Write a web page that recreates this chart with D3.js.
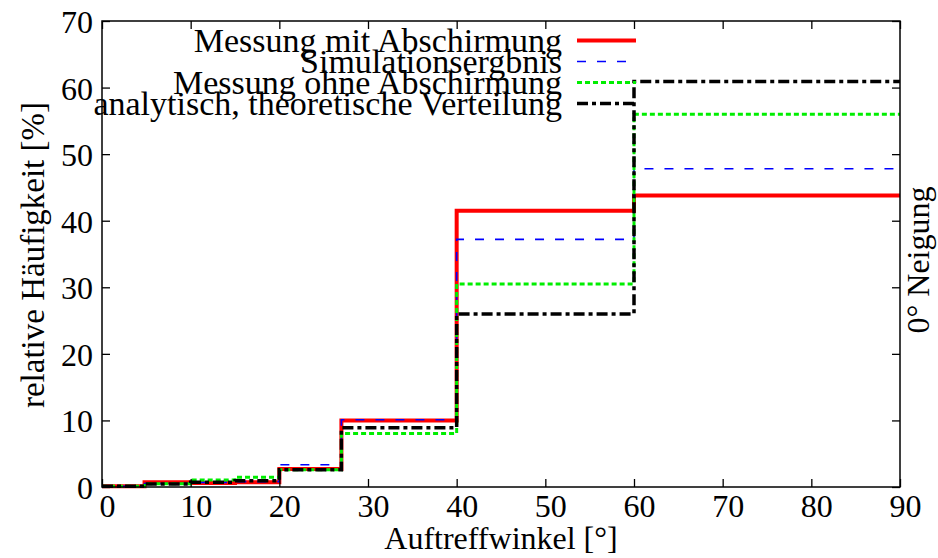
<!DOCTYPE html>
<html>
<head>
<meta charset="utf-8">
<title>Auftreffwinkel</title>
<script src="https://d3js.org/d3.v7.min.js"></script>
<style>
  body { margin:0; background:#fff; }
  svg text { font-family: "Liberation Serif", "DejaVu Serif", serif; fill:#000; }
</style>
</head>
<body>
<div id="chart"></div>
<script>
// bin edges (degrees) and per-bin values in %
var edges = [0, 4.8, 10, 15, 20, 27, 40, 60, 90];
var messungMit  = [0.1, 0.7, 0.6, 0.7, 2.7, 10.0, 41.5, 43.8];
var simulation  = [0.1, 0.5, 0.7, 0.8, 3.35, 10.1, 37.2, 47.8];
var messungOhne = [0.1, 0.5, 1.05, 1.45, 2.6, 8.05, 30.5, 56.0];
var analytisch  = [0.1, 0.45, 0.7, 0.95, 2.6, 8.9, 26.0, 60.9];

var names = ["Messung mit Abschirmung", "Simulationsergbnis",
             "Messung ohne Abschirmung", "analytisch, theoretische Verteilung"];
var xTicks = [0, 10, 20, 30, 40, 50, 60, 70, 80, 90];
var yTicks = [0, 10, 20, 30, 40, 50, 60, 70];

var W = 938, H = 558;
var pLeft = 102, pRight = 900, pTop = 21, pBottom = 487;

var x = d3.scaleLinear().domain([0, 90]).range([pLeft, pRight]);
var y = d3.scaleLinear().domain([0, 70]).range([pBottom, pTop]);

var svg = d3.select("#chart").append("svg")
    .attr("width", W).attr("height", H);

var styles = [
  {color:"#ff0000", width:4,   dash:null},
  {color:"#0000ff", width:1.6, dash:"9,11"},
  {color:"#00ee00", width:3,   dash:"5,3"},
  {color:"#000000", width:3.5, dash:"11,4,4,4"}
];
var series = [messungMit, simulation, messungOhne, analytisch];

// step lines
var line = d3.line()
    .x(function(d){ return x(d[0]); })
    .y(function(d){ return y(d[1]); })
    .curve(d3.curveStepAfter);

series.forEach(function(vals, i){
  var pts = vals.map(function(v, k){ return [edges[k], v]; });
  pts.push([edges[edges.length-1], vals[vals.length-1]]);
  var p = svg.append("path")
      .datum(pts)
      .attr("d", line)
      .attr("fill", "none")
      .attr("stroke", styles[i].color)
      .attr("stroke-width", styles[i].width);
  if (styles[i].dash) p.attr("stroke-dasharray", styles[i].dash);
});

// axes (ticks inward, mirrored)
var fs = "32px";
var gx = svg.append("g").attr("transform", "translate(0," + pBottom + ")")
    .call(d3.axisBottom(x).tickValues(xTicks).tickSizeInner(-8).tickSizeOuter(0).tickPadding(7));
gx.selectAll("text").attr("dx", 5).style("font-size", fs);

var gy = svg.append("g").attr("transform", "translate(" + pLeft + ",0)")
    .call(d3.axisLeft(y).tickValues(yTicks).tickSizeInner(-8).tickSizeOuter(0).tickPadding(9));
gy.selectAll("text").attr("dy", "0.36em").style("font-size", fs);

svg.append("g").attr("transform", "translate(0," + pTop + ")")
    .call(d3.axisTop(x).tickValues(xTicks).tickSizeInner(-8).tickSizeOuter(0).tickFormat(""));
svg.append("g").attr("transform", "translate(" + pRight + ",0)")
    .call(d3.axisRight(y).tickValues(yTicks).tickSizeInner(-8).tickSizeOuter(0).tickFormat(""));

svg.selectAll(".domain").remove();
svg.selectAll(".tick line").attr("stroke", "#000").attr("stroke-width", 1.3);

svg.append("rect")
    .attr("x", pLeft).attr("y", pTop)
    .attr("width", pRight - pLeft).attr("height", pBottom - pTop)
    .attr("fill", "none").attr("stroke", "#000").attr("stroke-width", 1.5);

// legend
var leg = svg.append("g");
names.forEach(function(n, i){
  var ly = 40.5 + i * 21;
  leg.append("text")
      .attr("x", 562).attr("y", ly).attr("dy", "0.33em")
      .attr("text-anchor", "end")
      .style("font-size", "34px")
      .text(n);
  var l = leg.append("line")
      .attr("x1", 577).attr("x2", 636)
      .attr("y1", ly).attr("y2", ly)
      .attr("stroke", styles[i].color)
      .attr("stroke-width", styles[i].width);
  if (styles[i].dash) l.attr("stroke-dasharray", styles[i].dash);
});

// axis titles
svg.append("text")
    .attr("x", 501).attr("y", 549)
    .attr("text-anchor", "middle")
    .style("font-size", fs)
    .text("Auftreffwinkel [°]");

svg.append("text")
    .attr("transform", "translate(44,255) rotate(-90)")
    .attr("text-anchor", "middle")
    .style("font-size", "33px")
    .text("relative Häufigkeit [%]");

svg.append("text")
    .attr("transform", "translate(929,260) rotate(-90)")
    .attr("text-anchor", "middle")
    .style("font-size", fs)
    .text("0° Neigung");
</script>
</body>
</html>
